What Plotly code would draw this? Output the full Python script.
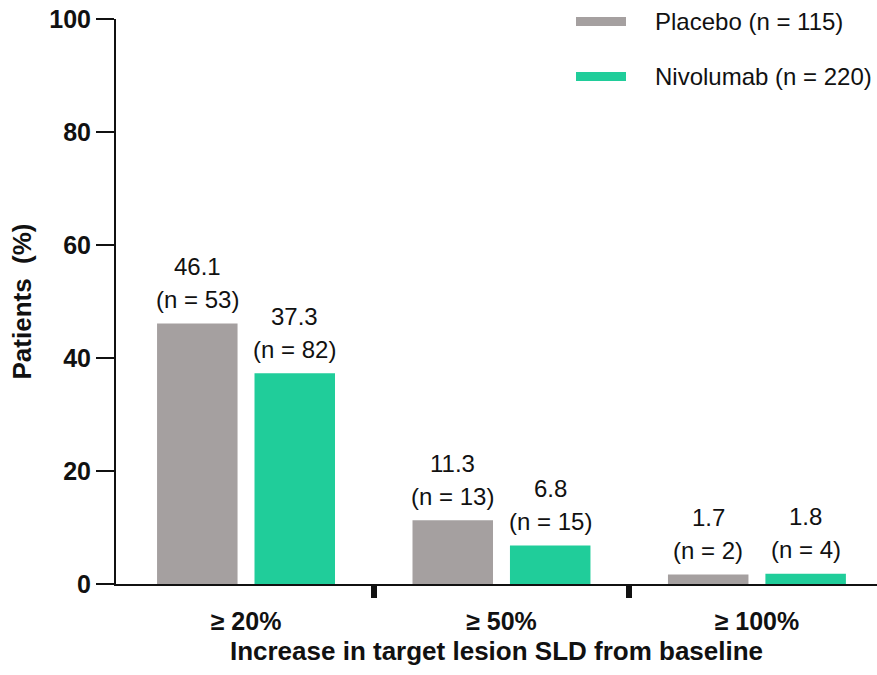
import plotly.graph_objects as go

# ---- data ----
categories = ["≥ 20%", "≥ 50%", "≥ 100%"]
placebo_pct = [46.1, 11.3, 1.7]
placebo_n = [53, 13, 2]
nivolumab_pct = [37.3, 6.8, 1.8]
nivolumab_n = [82, 15, 4]
series_names = ["Placebo (n = 115)", "Nivolumab (n = 220)"]
y_ticks = [0, 20, 40, 60, 80, 100]

# ---- style ----
GRAY = "#A5A0A0"
GREEN = "#20CD9A"
INK = "#111111"
FONT = "Liberation Sans, Arial, sans-serif"
BARGAP = 0.237
BARGROUPGAP = 0.174
W, H = 877, 675
ML, MR, MT, MB = 116, 0, 19, 91
X_RANGE = [-0.509, 2.47]

x_idx = list(range(len(categories)))

fig = go.Figure()
fig.add_trace(go.Bar(x=x_idx, y=placebo_pct, name=series_names[0],
                     marker=dict(color=GRAY, line=dict(width=0)), showlegend=False,
                     hoverinfo="skip"))
fig.add_trace(go.Bar(x=x_idx, y=nivolumab_pct, name=series_names[1],
                     marker=dict(color=GREEN, line=dict(width=0)), showlegend=False,
                     hoverinfo="skip"))
# carrier for the boundary-tick axis
fig.add_trace(go.Scatter(x=[], y=[], xaxis="x2", showlegend=False, hoverinfo="skip"))

# value labels: two lines above each bar
slot = (1 - BARGAP) / 2
annotations = []
for pcts, ns, off in ((placebo_pct, placebo_n, -slot / 2), (nivolumab_pct, nivolumab_n, slot / 2)):
    for i, (v, n) in enumerate(zip(pcts, ns)):
        annotations.append(dict(x=i + off, y=v, xref="x", yref="y", text=f"(n = {n})",
                                showarrow=False, yanchor="middle", yshift=24,
                                font=dict(family=FONT, size=24, color=INK)))
        annotations.append(dict(x=i + off, y=v, xref="x", yref="y", text=f"{v:.1f}",
                                showarrow=False, yanchor="middle", yshift=57,
                                font=dict(family=FONT, size=24, color=INK)))

# legend drawn as wide swatches with text
PW = W - ML - MR
PH = H - MT - MB


def px_x(p):
    return (p - ML) / PW


def px_y(p):
    return (H - MB - p) / PH


shapes = []
for name, color, cy in ((series_names[0], GRAY, 21.5), (series_names[1], GREEN, 76.5)):
    shapes.append(dict(type="rect", xref="paper", yref="paper",
                       x0=px_x(576), x1=px_x(626), y0=px_y(cy - 4.5), y1=px_y(cy + 4.5),
                       fillcolor=color, line=dict(width=0), layer="above"))
    annotations.append(dict(x=px_x(653), y=px_y(cy), xref="paper", yref="paper",
                            text=name, showarrow=False, xanchor="left", yanchor="middle",
                            font=dict(family=FONT, size=24, color=INK)))

fig.update_layout(
    width=W, height=H,
    margin=dict(l=ML, r=MR, t=MT, b=MB, pad=0),
    paper_bgcolor="white", plot_bgcolor="white",
    barmode="group", bargap=BARGAP, bargroupgap=BARGROUPGAP,
    font=dict(family=FONT, color=INK),
    xaxis=dict(
        range=X_RANGE, tickvals=x_idx, ticktext=categories,
        ticks="outside", ticklen=14, tickcolor="rgba(0,0,0,0)",
        tickfont=dict(family=FONT, size=25, color=INK, weight=700),
        showline=True, linecolor=INK, linewidth=2, showgrid=False, zeroline=False,
        title=dict(text="Increase in target lesion SLD from baseline", standoff=8,
                   font=dict(family=FONT, size=26, color=INK, weight=700)),
        fixedrange=True,
    ),
    xaxis2=dict(
        range=X_RANGE, overlaying="x", anchor="y", side="bottom",
        tickvals=[0.5, 1.5], ticks="outside", ticklen=13, tickwidth=6, tickcolor=INK,
        showticklabels=False, showline=False, showgrid=False, zeroline=False,
    ),
    yaxis=dict(
        range=[0, 100], tickvals=y_ticks,
        ticks="outside", ticklen=18, tickwidth=2, tickcolor=INK,
        tickfont=dict(family=FONT, size=25, color=INK, weight=700),
        showline=True, linecolor=INK, linewidth=2, showgrid=False, zeroline=False,
        title=dict(text="Patients\u00a0\u00a0(%)", standoff=10,
                   font=dict(family=FONT, size=26, color=INK, weight=700)),
        fixedrange=True,
    ),
    shapes=shapes,
    annotations=annotations,
)

fig.write_html("out.html")
